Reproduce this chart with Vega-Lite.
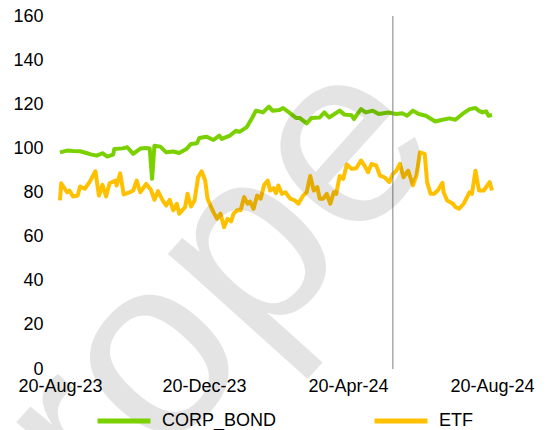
{
  "$schema": "https://vega.github.io/schema/vega-lite/v6.json",
  "width": 432,
  "height": 353,
  "autosize": {"type": "none"},
  "padding": {"left": 60, "top": 16, "right": 56, "bottom": 61},
  "config": {
    "view": {"stroke": null},
    "font": "Liberation Sans",
    "axis": {"labelFont": "Liberation Sans", "labelFontSize": 18, "labelColor": "#000000", "domain": false, "ticks": false, "grid": false, "title": null},
    "legend": {"labelFont": "Liberation Sans", "labelFontSize": 18, "labelColor": "#000000"}
  },
  "datasets": {
    "series": [
      {"date":"2023-08-20","series":"CORP_BOND","value":98.2},
      {"date":"2023-08-26","series":"CORP_BOND","value":99.0},
      {"date":"2023-08-31","series":"CORP_BOND","value":98.8},
      {"date":"2023-09-06","series":"CORP_BOND","value":98.7},
      {"date":"2023-09-12","series":"CORP_BOND","value":97.8},
      {"date":"2023-09-15","series":"CORP_BOND","value":97.3},
      {"date":"2023-09-20","series":"CORP_BOND","value":96.7},
      {"date":"2023-09-25","series":"CORP_BOND","value":97.8},
      {"date":"2023-09-29","series":"CORP_BOND","value":96.3},
      {"date":"2023-10-04","series":"CORP_BOND","value":97.2},
      {"date":"2023-10-05","series":"CORP_BOND","value":99.7},
      {"date":"2023-10-12","series":"CORP_BOND","value":100.0},
      {"date":"2023-10-16","series":"CORP_BOND","value":100.5},
      {"date":"2023-10-21","series":"CORP_BOND","value":97.5},
      {"date":"2023-10-27","series":"CORP_BOND","value":99.9},
      {"date":"2023-11-01","series":"CORP_BOND","value":100.2},
      {"date":"2023-11-04","series":"CORP_BOND","value":100.0},
      {"date":"2023-11-06","series":"CORP_BOND","value":86.2},
      {"date":"2023-11-08","series":"CORP_BOND","value":101.2},
      {"date":"2023-11-13","series":"CORP_BOND","value":100.8},
      {"date":"2023-11-18","series":"CORP_BOND","value":98.2},
      {"date":"2023-11-24","series":"CORP_BOND","value":98.6},
      {"date":"2023-11-29","series":"CORP_BOND","value":97.9},
      {"date":"2023-12-05","series":"CORP_BOND","value":99.7},
      {"date":"2023-12-09","series":"CORP_BOND","value":102.0},
      {"date":"2023-12-14","series":"CORP_BOND","value":102.3},
      {"date":"2023-12-16","series":"CORP_BOND","value":104.7},
      {"date":"2023-12-22","series":"CORP_BOND","value":105.3},
      {"date":"2023-12-28","series":"CORP_BOND","value":103.8},
      {"date":"2024-01-02","series":"CORP_BOND","value":105.8},
      {"date":"2024-01-04","series":"CORP_BOND","value":104.3},
      {"date":"2024-01-11","series":"CORP_BOND","value":105.8},
      {"date":"2024-01-16","series":"CORP_BOND","value":108.0},
      {"date":"2024-01-19","series":"CORP_BOND","value":107.5},
      {"date":"2024-01-25","series":"CORP_BOND","value":109.5},
      {"date":"2024-01-30","series":"CORP_BOND","value":114.0},
      {"date":"2024-02-02","series":"CORP_BOND","value":117.1},
      {"date":"2024-02-08","series":"CORP_BOND","value":116.3},
      {"date":"2024-02-13","series":"CORP_BOND","value":118.9},
      {"date":"2024-02-16","series":"CORP_BOND","value":117.1},
      {"date":"2024-02-22","series":"CORP_BOND","value":117.4},
      {"date":"2024-02-25","series":"CORP_BOND","value":118.3},
      {"date":"2024-03-01","series":"CORP_BOND","value":116.3},
      {"date":"2024-03-07","series":"CORP_BOND","value":113.8},
      {"date":"2024-03-10","series":"CORP_BOND","value":113.8},
      {"date":"2024-03-16","series":"CORP_BOND","value":111.3},
      {"date":"2024-03-20","series":"CORP_BOND","value":113.8},
      {"date":"2024-03-27","series":"CORP_BOND","value":114.0},
      {"date":"2024-03-31","series":"CORP_BOND","value":116.3},
      {"date":"2024-04-04","series":"CORP_BOND","value":114.0},
      {"date":"2024-04-13","series":"CORP_BOND","value":117.1},
      {"date":"2024-04-17","series":"CORP_BOND","value":115.3},
      {"date":"2024-04-23","series":"CORP_BOND","value":115.0},
      {"date":"2024-04-25","series":"CORP_BOND","value":113.3},
      {"date":"2024-05-01","series":"CORP_BOND","value":117.8},
      {"date":"2024-05-05","series":"CORP_BOND","value":116.3},
      {"date":"2024-05-11","series":"CORP_BOND","value":117.1},
      {"date":"2024-05-16","series":"CORP_BOND","value":115.6},
      {"date":"2024-05-24","series":"CORP_BOND","value":116.3},
      {"date":"2024-05-31","series":"CORP_BOND","value":115.6},
      {"date":"2024-06-05","series":"CORP_BOND","value":115.9},
      {"date":"2024-06-09","series":"CORP_BOND","value":114.8},
      {"date":"2024-06-14","series":"CORP_BOND","value":117.1},
      {"date":"2024-06-19","series":"CORP_BOND","value":115.6},
      {"date":"2024-06-25","series":"CORP_BOND","value":114.8},
      {"date":"2024-07-03","series":"CORP_BOND","value":112.2},
      {"date":"2024-07-09","series":"CORP_BOND","value":113.0},
      {"date":"2024-07-15","series":"CORP_BOND","value":113.6},
      {"date":"2024-07-20","series":"CORP_BOND","value":113.0},
      {"date":"2024-07-26","series":"CORP_BOND","value":115.6},
      {"date":"2024-08-01","series":"CORP_BOND","value":117.8},
      {"date":"2024-08-06","series":"CORP_BOND","value":118.3},
      {"date":"2024-08-09","series":"CORP_BOND","value":117.0},
      {"date":"2024-08-12","series":"CORP_BOND","value":116.3},
      {"date":"2024-08-15","series":"CORP_BOND","value":116.8},
      {"date":"2024-08-17","series":"CORP_BOND","value":114.8},
      {"date":"2024-08-20","series":"CORP_BOND","value":115.1},
      {"date":"2023-08-20","series":"ETF","value":76.4},
      {"date":"2023-08-21","series":"ETF","value":84.2},
      {"date":"2023-08-26","series":"ETF","value":80.1},
      {"date":"2023-08-28","series":"ETF","value":80.9},
      {"date":"2023-08-31","series":"ETF","value":78.2},
      {"date":"2023-09-04","series":"ETF","value":78.6},
      {"date":"2023-09-06","series":"ETF","value":82.7},
      {"date":"2023-09-10","series":"ETF","value":81.7},
      {"date":"2023-09-14","series":"ETF","value":84.7},
      {"date":"2023-09-19","series":"ETF","value":89.6},
      {"date":"2023-09-22","series":"ETF","value":78.6},
      {"date":"2023-09-25","series":"ETF","value":83.5},
      {"date":"2023-09-28","series":"ETF","value":78.2},
      {"date":"2023-10-01","series":"ETF","value":84.2},
      {"date":"2023-10-06","series":"ETF","value":85.4},
      {"date":"2023-10-07","series":"ETF","value":83.2},
      {"date":"2023-10-10","series":"ETF","value":88.7},
      {"date":"2023-10-13","series":"ETF","value":79.1},
      {"date":"2023-10-18","series":"ETF","value":80.1},
      {"date":"2023-10-21","series":"ETF","value":80.9},
      {"date":"2023-10-24","series":"ETF","value":85.4},
      {"date":"2023-10-27","series":"ETF","value":80.1},
      {"date":"2023-11-01","series":"ETF","value":83.9},
      {"date":"2023-11-05","series":"ETF","value":81.2},
      {"date":"2023-11-08","series":"ETF","value":76.7},
      {"date":"2023-11-11","series":"ETF","value":80.6},
      {"date":"2023-11-15","series":"ETF","value":76.4},
      {"date":"2023-11-18","series":"ETF","value":74.1},
      {"date":"2023-11-21","series":"ETF","value":76.7},
      {"date":"2023-11-24","series":"ETF","value":71.9},
      {"date":"2023-11-27","series":"ETF","value":74.9},
      {"date":"2023-11-29","series":"ETF","value":70.4},
      {"date":"2023-12-04","series":"ETF","value":73.4},
      {"date":"2023-12-06","series":"ETF","value":79.4},
      {"date":"2023-12-09","series":"ETF","value":73.7},
      {"date":"2023-12-12","series":"ETF","value":76.4},
      {"date":"2023-12-15","series":"ETF","value":86.9},
      {"date":"2023-12-18","series":"ETF","value":89.6},
      {"date":"2023-12-21","series":"ETF","value":85.4},
      {"date":"2023-12-23","series":"ETF","value":77.2},
      {"date":"2023-12-26","series":"ETF","value":73.4},
      {"date":"2023-12-28","series":"ETF","value":71.1},
      {"date":"2023-12-31","series":"ETF","value":68.1},
      {"date":"2024-01-03","series":"ETF","value":70.4},
      {"date":"2024-01-06","series":"ETF","value":64.3},
      {"date":"2024-01-09","series":"ETF","value":68.1},
      {"date":"2024-01-12","series":"ETF","value":66.9},
      {"date":"2024-01-14","series":"ETF","value":70.4},
      {"date":"2024-01-17","series":"ETF","value":71.9},
      {"date":"2024-01-20","series":"ETF","value":71.9},
      {"date":"2024-01-23","series":"ETF","value":77.9},
      {"date":"2024-01-26","series":"ETF","value":74.9},
      {"date":"2024-01-28","series":"ETF","value":75.9},
      {"date":"2024-01-31","series":"ETF","value":72.6},
      {"date":"2024-02-03","series":"ETF","value":78.6},
      {"date":"2024-02-06","series":"ETF","value":77.2},
      {"date":"2024-02-09","series":"ETF","value":83.5},
      {"date":"2024-02-12","series":"ETF","value":85.4},
      {"date":"2024-02-14","series":"ETF","value":80.9},
      {"date":"2024-02-17","series":"ETF","value":82.0},
      {"date":"2024-02-19","series":"ETF","value":79.7},
      {"date":"2024-02-21","series":"ETF","value":83.2},
      {"date":"2024-02-24","series":"ETF","value":79.4},
      {"date":"2024-02-27","series":"ETF","value":80.1},
      {"date":"2024-03-02","series":"ETF","value":77.2},
      {"date":"2024-03-06","series":"ETF","value":76.4},
      {"date":"2024-03-09","series":"ETF","value":74.9},
      {"date":"2024-03-13","series":"ETF","value":78.6},
      {"date":"2024-03-16","series":"ETF","value":80.1},
      {"date":"2024-03-19","series":"ETF","value":87.5},
      {"date":"2024-03-22","series":"ETF","value":80.9},
      {"date":"2024-03-25","series":"ETF","value":82.4},
      {"date":"2024-03-27","series":"ETF","value":77.2},
      {"date":"2024-03-30","series":"ETF","value":77.2},
      {"date":"2024-04-02","series":"ETF","value":79.4},
      {"date":"2024-04-05","series":"ETF","value":74.9},
      {"date":"2024-04-08","series":"ETF","value":80.1},
      {"date":"2024-04-10","series":"ETF","value":79.4},
      {"date":"2024-04-13","series":"ETF","value":87.5},
      {"date":"2024-04-16","series":"ETF","value":86.2},
      {"date":"2024-04-19","series":"ETF","value":92.7},
      {"date":"2024-04-23","series":"ETF","value":90.7},
      {"date":"2024-04-27","series":"ETF","value":91.0},
      {"date":"2024-05-01","series":"ETF","value":94.5},
      {"date":"2024-05-04","series":"ETF","value":92.2},
      {"date":"2024-05-07","series":"ETF","value":89.2},
      {"date":"2024-05-10","series":"ETF","value":93.0},
      {"date":"2024-05-14","series":"ETF","value":92.2},
      {"date":"2024-05-17","series":"ETF","value":87.7},
      {"date":"2024-05-21","series":"ETF","value":86.9},
      {"date":"2024-05-25","series":"ETF","value":84.7},
      {"date":"2024-05-28","series":"ETF","value":88.4},
      {"date":"2024-05-31","series":"ETF","value":89.9},
      {"date":"2024-06-03","series":"ETF","value":93.0},
      {"date":"2024-06-06","series":"ETF","value":86.9},
      {"date":"2024-06-10","series":"ETF","value":89.9},
      {"date":"2024-06-14","series":"ETF","value":83.2},
      {"date":"2024-06-17","series":"ETF","value":87.7},
      {"date":"2024-06-20","series":"ETF","value":98.2},
      {"date":"2024-06-24","series":"ETF","value":97.5},
      {"date":"2024-06-26","series":"ETF","value":84.7},
      {"date":"2024-06-29","series":"ETF","value":79.4},
      {"date":"2024-07-02","series":"ETF","value":79.4},
      {"date":"2024-07-05","series":"ETF","value":80.9},
      {"date":"2024-07-09","series":"ETF","value":84.4},
      {"date":"2024-07-10","series":"ETF","value":80.1},
      {"date":"2024-07-13","series":"ETF","value":76.4},
      {"date":"2024-07-18","series":"ETF","value":74.9},
      {"date":"2024-07-20","series":"ETF","value":73.4},
      {"date":"2024-07-23","series":"ETF","value":72.6},
      {"date":"2024-07-27","series":"ETF","value":74.9},
      {"date":"2024-08-01","series":"ETF","value":80.1},
      {"date":"2024-08-03","series":"ETF","value":79.4},
      {"date":"2024-08-06","series":"ETF","value":89.9},
      {"date":"2024-08-09","series":"ETF","value":80.9},
      {"date":"2024-08-13","series":"ETF","value":80.9},
      {"date":"2024-08-18","series":"ETF","value":84.7},
      {"date":"2024-08-20","series":"ETF","value":80.9}
    ],
    "marker": [{"date": "2024-05-28"}],
    "watermark": [{"date": "2023-10-05", "value": -13.9, "label": "Europe"}]
  },
  "layer": [
    {
      "data": {"name": "series", "format": {"parse": {"date": "date:'%Y-%m-%d'"}}},
      "mark": {"type": "line", "strokeWidth": 4, "strokeJoin": "round"},
      "encoding": {
        "x": {
          "field": "date", "type": "temporal",
          "scale": {"domain": [{"year": 2023, "month": 8, "date": 20}, {"year": 2024, "month": 8, "date": 20}]},
          "axis": {
            "values": [{"year": 2023, "month": 8, "date": 20}, {"year": 2023, "month": 12, "date": 20}, {"year": 2024, "month": 4, "date": 20}, {"year": 2024, "month": 8, "date": 20}],
            "format": "%d-%b-%y", "labelPadding": 8, "labelOverlap": false, "labelBound": false, "labelFlush": false
          }
        },
        "y": {
          "field": "value", "type": "quantitative",
          "scale": {"domain": [0, 160], "nice": false},
          "axis": {"values": [0, 20, 40, 60, 80, 100, 120, 140, 160], "labelPadding": 17}
        },
        "color": {
          "field": "series", "type": "nominal",
          "scale": {"domain": ["CORP_BOND", "ETF"], "range": ["#7BD000", "#FFC000"]},
          "legend": {
            "title": null, "orient": "none", "direction": "horizontal",
            "legendX": 35, "legendY": 376,
            "symbolType": "stroke", "symbolSize": 2809, "symbolStrokeWidth": 5,
            "labelOffset": 9, "columnPadding": 87
          }
        }
      }
    },
    {
      "data": {"name": "marker", "format": {"parse": {"date": "date:'%Y-%m-%d'"}}},
      "mark": {"type": "rule", "color": "#7F7F7F", "strokeWidth": 1},
      "encoding": {"x": {"field": "date", "type": "temporal"}}
    },
    {
      "data": {"name": "watermark", "format": {"parse": {"date": "date:'%Y-%m-%d'"}}},
      "mark": {"type": "text", "font": "Liberation Sans", "fontSize": 255, "angle": -48, "align": "center", "baseline": "middle", "color": "#000000", "opacity": 0.1},
      "encoding": {
        "x": {"field": "date", "type": "temporal"},
        "y": {"field": "value", "type": "quantitative"},
        "text": {"field": "label"}
      }
    }
  ]
}
